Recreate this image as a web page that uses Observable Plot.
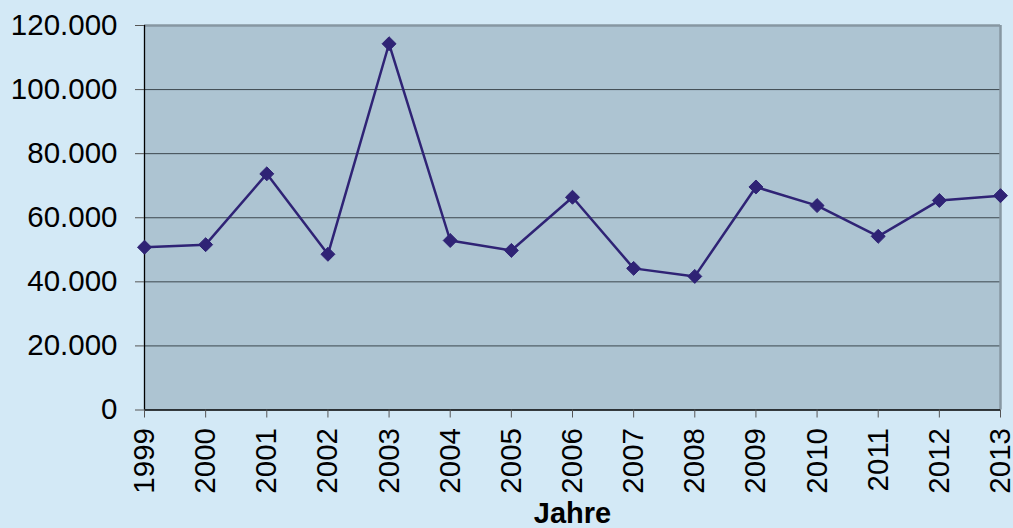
<!DOCTYPE html>
<html>
<head>
<meta charset="utf-8">
<script src="https://cdn.jsdelivr.net/npm/d3@7"></script>
<script src="https://cdn.jsdelivr.net/npm/@observablehq/plot@0.6"></script>
<style>
  html, body { margin: 0; padding: 0; background: #D3E9F6; }
</style>
</head>
<body>
<div id="chart"></div>
<script>
const years = [1999, 2000, 2001, 2002, 2003, 2004, 2005, 2006, 2007, 2008, 2009, 2010, 2011, 2012, 2013];
const values = [50800, 51600, 73700, 48600, 114300, 52900, 49800, 66400, 44200, 41700, 69600, 63800, 54200, 65400, 66900];
const yTicks = [0, 20000, 40000, 60000, 80000, 100000, 120000];
const xLabel = "Jahre";

const data = years.map((y, i) => ({year: y, value: values[i]}));
const fmt = d => d === 0 ? "0" : d3.format(",")(d).replace(/,/g, ".");

const chart = Plot.plot({
  width: 1013,
  height: 528,
  marginLeft: 144,
  marginRight: 13,
  marginTop: 25,
  marginBottom: 118.5,
  style: {background: "#D3E9F6", fontFamily: "'Liberation Sans', Arial, sans-serif", color: "#000"},
  x: {domain: [1999, 2013]},
  y: {domain: [0, 120000]},
  marks: [
    Plot.frame({fill: "#ADC4D2", stroke: null}),
    Plot.ruleY(yTicks.filter(d => d > 0 && d < 120000), {stroke: "#3C474E", strokeWidth: 1}),
    Plot.ruleY([120000], {stroke: "#8797A2", strokeWidth: 2.5}),
    Plot.ruleX([2013], {stroke: "#8797A2", strokeWidth: 2.5}),
    Plot.ruleX([1999], {stroke: "#000", strokeWidth: 1.3}),
    Plot.ruleY([0], {stroke: "#000", strokeWidth: 1.3}),
    Plot.axisY({ticks: yTicks, tickFormat: fmt, tickSize: 9, tickPadding: 18, fontSize: 29.5, stroke: "#555", label: null}),
    Plot.axisX({ticks: years, tickFormat: d => String(d), tickSize: 8, tickPadding: 10, tickRotate: -90, fontSize: 29.5, stroke: "#555", label: null}),
    Plot.line(data, {x: "year", y: "value", stroke: "#2F2375", strokeWidth: 2.5}),
    Plot.dot(data, {x: "year", y: "value", symbol: "diamond2", r: 6.3, fill: "#2F2375", stroke: "#2F2375", strokeWidth: 1}),
    Plot.text([xLabel], {frameAnchor: "bottom", lineAnchor: "bottom", dy: 113, fontSize: 29, fontWeight: "bold", fill: "#000"})
  ]
});
document.getElementById("chart").appendChild(chart);
</script>
</body>
</html>
